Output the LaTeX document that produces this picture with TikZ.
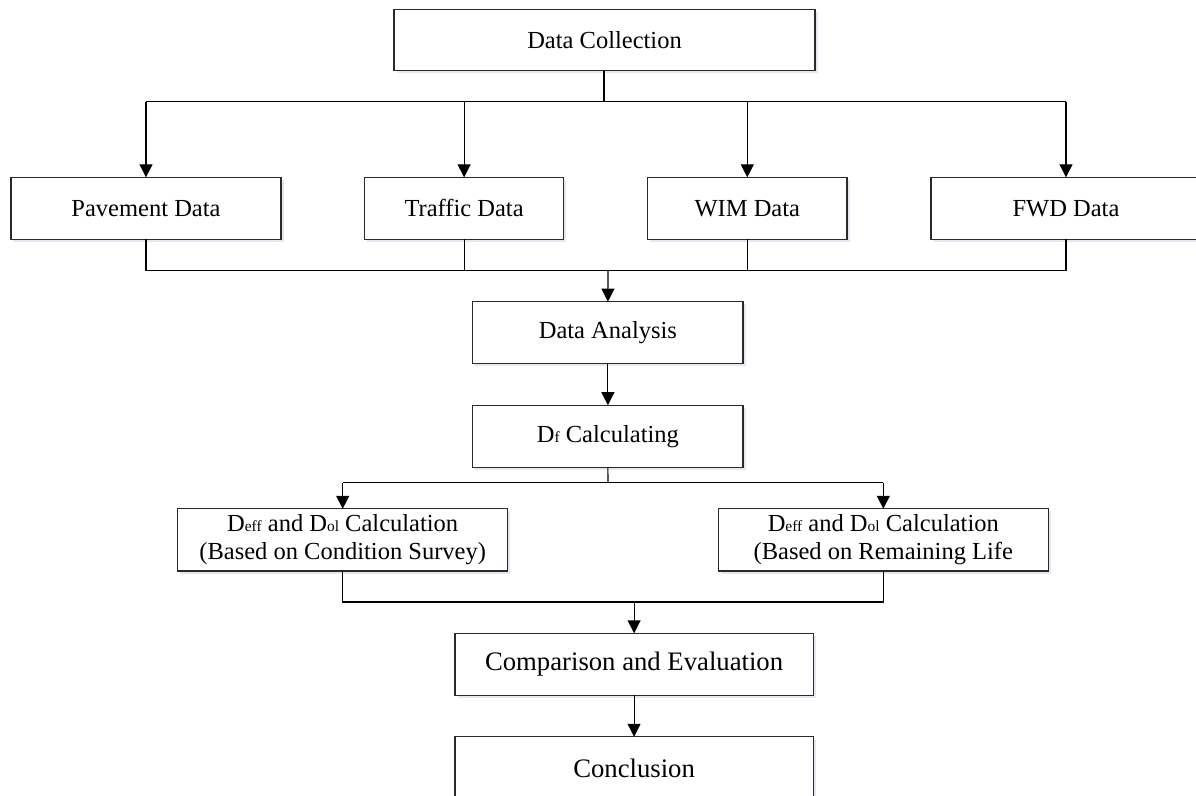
\documentclass[tikz,border=0pt]{standalone}
\usepackage{fontspec}
\setmainfont{Liberation Serif}
\usetikzlibrary{arrows.meta,shadows}
\definecolor{boxc}{HTML}{2A2A2A}
\definecolor{shc}{HTML}{DDE3EE}
\newcommand\mainsz{\fontsize{24.6}{28.4}\selectfont}
\newcommand\bigsz{\fontsize{26.8}{30}\selectfont}
\newcommand\sbs[1]{{\fontsize{15.5}{15.5}\selectfont #1}}
\tikzset{
  fbox/.style={draw=boxc, line width=1.4bp, fill=white, inner sep=0pt, outer sep=0pt,
    minimum height=62bp, align=center, font=\mainsz, text=black,
    drop shadow={shadow xshift=2.5bp, shadow yshift=-2.5bp, fill=shc, opacity=0.8}},
  conn/.style={draw=black, line width=1.1bp},
  arr/.style={conn, -{Triangle[length=13bp,width=13bp]}}
}
\begin{document}
\begin{tikzpicture}[x=1bp,y=-1bp]
\useasboundingbox (0,0) rectangle (1196,796);
\clip (0,0) rectangle (1196,796);
\fill[white] (0,0) rectangle (1196,796);
% nodes
\node[fbox, minimum width=421bp, minimum height=61.4bp] (dc) at (604.5,40) {Data Collection};
\node[fbox, minimum width=270bp] (pav) at (146,208.3) {Pavement Data};
\node[fbox, minimum width=199bp] (tra) at (464.1,208.3) {Traffic Data};
\node[fbox, minimum width=199.5bp] (wim) at (747.3,208.3) {WIM Data};
\node[fbox, minimum width=270bp] (fwd) at (1066,208.3) {FWD Data};
\node[fbox, minimum width=270.3bp] (da) at (607.9,332.6) {Data Analysis};
\node[fbox, minimum width=270.3bp] (df) at (607.9,436.2) {D\sbs{f} Calculating};
\node[fbox, minimum width=330bp, minimum height=62.3bp] (dl) at (342.7,539.9)
  {D\sbs{eff} and D\sbs{ol} Calculation\\(Based on Condition Survey)};
\node[fbox, minimum width=330bp, minimum height=62.3bp] (dr) at (883.3,539.9)
  {D\sbs{eff} and D\sbs{ol} Calculation\\(Based on Remaining Life};
\node[fbox, minimum width=358.2bp, font=\bigsz] (cmp) at (634.1,664.3) {Comparison and Evaluation};
\node[fbox, minimum width=358.2bp, minimum height=62.3bp, font=\bigsz] (con) at (634.1,767.9) {Conclusion};
% bus coordinates
\coordinate (b1) at (604,101.7);
\coordinate (b2) at (608,270.7);
\coordinate (b3) at (608,482.7);
\coordinate (b4) at (634.1,602);
% connectors: top fan-out
\draw[conn] (dc.south -| b1) -- (b1);
\draw[conn] (b1 -| pav.north) -- (b1 -| fwd.north);
\draw[arr] (b1 -| pav.north) -- (pav.north);
\draw[arr] (b1 -| tra.north) -- (tra.north);
\draw[arr] (b1 -| wim.north) -- (wim.north);
\draw[arr] (b1 -| fwd.north) -- (fwd.north);
% fan-in
\draw[conn] (pav.south) -- (b2 -| pav.south) -- (b2 -| fwd.south) -- (fwd.south);
\draw[conn] (tra.south) -- (b2 -| tra.south);
\draw[conn] (wim.south) -- (b2 -| wim.south);
\draw[arr] (b2) -- (da.north);
\draw[arr] (da.south) -- (df.north);
% split
\draw[conn] (df.south) -- (b3);
\draw[conn] (b3 -| dl.north) -- (b3 -| dr.north);
\draw[arr] (b3 -| dl.north) -- (dl.north);
\draw[arr] (b3 -| dr.north) -- (dr.north);
% merge
\draw[conn] (dl.south) -- (b4 -| dl.south) -- (b4 -| dr.south) -- (dr.south);
\draw[arr] (b4) -- (cmp.north);
\draw[arr] (cmp.south) -- (con.north);
\end{tikzpicture}
\end{document}
